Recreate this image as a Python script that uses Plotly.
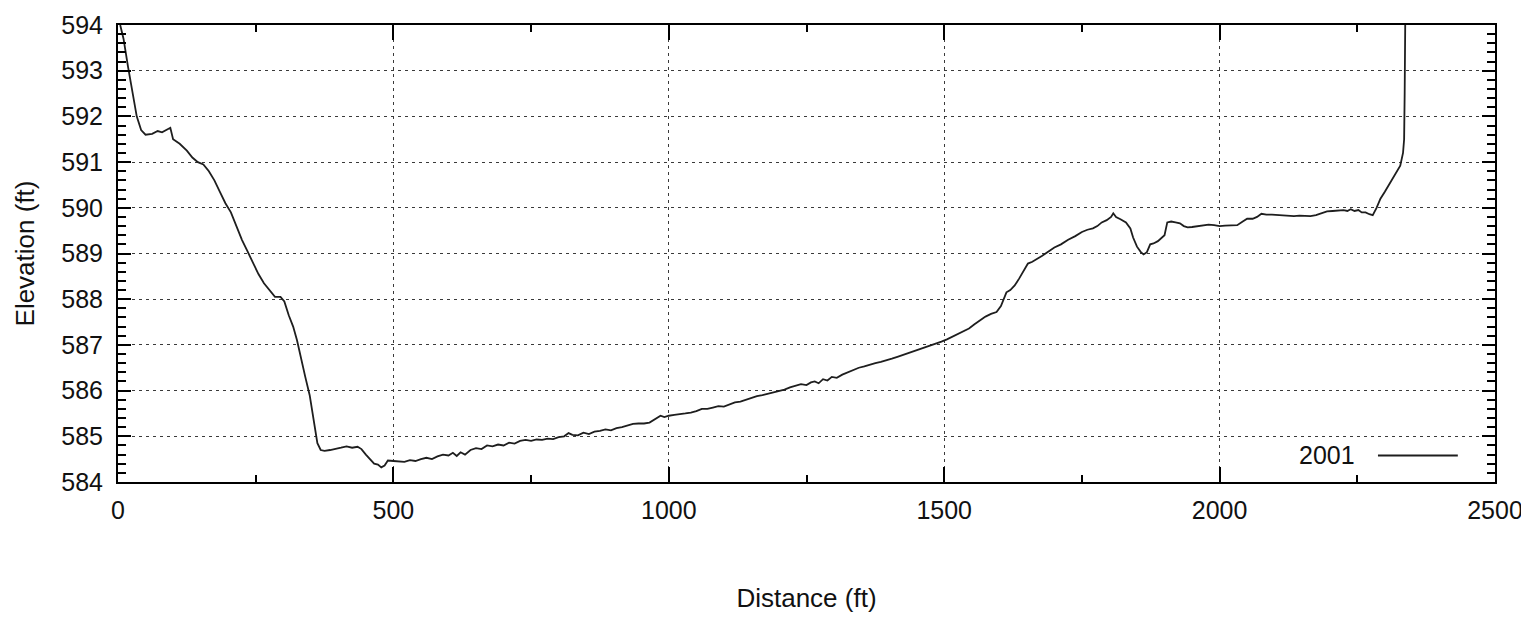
import plotly.graph_objects as go

# Distance along cross-section (ft)
distance_ft = [
    4, 10, 18, 26, 34, 42, 50, 62, 72, 80, 88, 95, 100, 112, 125, 135, 145, 155, 165, 175,
    185, 195, 205, 215, 225, 235, 245, 255, 265, 275, 285, 295, 302, 310, 318, 325, 332, 340,
    348, 355, 362, 368, 375, 385, 395, 405, 415, 425, 435, 442, 450, 458, 465, 472, 478, 484,
    490, 500, 510, 520, 530, 540, 550, 560, 570, 580, 590, 600, 608, 615, 622, 630, 640, 650,
    660, 670, 680, 690, 700, 710, 720, 730, 740, 750, 760, 770, 780, 790, 800, 810, 818, 825,
    835, 845, 855, 865, 875, 885, 895, 905, 915, 925, 935, 945, 955, 965, 975, 985, 992, 1000,
    1010, 1020, 1030, 1040, 1050, 1060, 1070, 1080, 1090, 1100, 1110, 1120, 1130, 1140, 1150,
    1160, 1170, 1180, 1190, 1200, 1210, 1220, 1230, 1240, 1250, 1258, 1265, 1272, 1280, 1288,
    1296, 1305, 1315, 1325, 1335, 1345, 1355, 1365, 1375, 1385, 1395, 1405, 1415, 1425, 1435,
    1445, 1455, 1465, 1475, 1485, 1495, 1505, 1515, 1525, 1535, 1545, 1555, 1565, 1575, 1585,
    1595, 1603, 1608, 1613, 1620, 1628, 1636, 1645, 1652, 1660, 1668, 1678, 1690, 1700, 1712,
    1725, 1738, 1750, 1760, 1770, 1778, 1786, 1795, 1803, 1807, 1812, 1820, 1830, 1838, 1843,
    1850, 1857, 1862, 1868, 1874, 1880, 1888, 1895, 1900, 1905, 1912, 1920, 1928, 1935, 1942,
    1950, 1960, 1970, 1980, 1990, 2000, 2010, 2020, 2032, 2042, 2050, 2060, 2068, 2076, 2085,
    2095, 2105, 2115, 2125, 2135, 2145, 2155, 2165, 2175, 2185, 2195, 2205, 2215, 2225, 2232,
    2238, 2245, 2252, 2258, 2265, 2272, 2278, 2285, 2292, 2300, 2310, 2320, 2328, 2333, 2335,
    2336, 2337,
]

# Elevation (ft), survey year 2001
elevation_2001 = [
    594.0, 593.7, 593.1, 592.5, 592.0, 591.7, 591.6, 591.62, 591.68, 591.65, 591.7, 591.75,
    591.5, 591.4, 591.25, 591.1, 591.0, 590.95, 590.8, 590.6, 590.35, 590.1, 589.9, 589.6,
    589.3, 589.05, 588.8, 588.55, 588.35, 588.2, 588.05, 588.05, 587.95, 587.65, 587.4, 587.1,
    586.7, 586.3, 585.9, 585.35, 584.85, 584.7, 584.68, 584.7, 584.72, 584.75, 584.78, 584.75,
    584.77, 584.72, 584.6, 584.48, 584.4, 584.38, 584.32, 584.36, 584.47, 584.46, 584.45,
    584.44, 584.48, 584.46, 584.5, 584.53, 584.5, 584.56, 584.6, 584.58, 584.64, 584.57,
    584.65, 584.6, 584.7, 584.74, 584.72, 584.8, 584.78, 584.82, 584.8, 584.86, 584.84, 584.9,
    584.92, 584.9, 584.93, 584.92, 584.95, 584.94, 584.98, 585.0, 585.07, 585.03, 585.02,
    585.08, 585.05, 585.1, 585.12, 585.15, 585.13, 585.18, 585.2, 585.24, 585.27, 585.28,
    585.28, 585.3, 585.38, 585.45, 585.42, 585.45, 585.47, 585.48, 585.5, 585.52, 585.55,
    585.6, 585.6, 585.63, 585.66, 585.65, 585.7, 585.74, 585.76, 585.8, 585.84, 585.88, 585.9,
    585.93, 585.97, 586.0, 586.02, 586.07, 586.1, 586.14, 586.12, 586.18, 586.2, 586.16,
    586.25, 586.22, 586.3, 586.28, 586.35, 586.4, 586.45, 586.5, 586.53, 586.57, 586.6, 586.63,
    586.66, 586.7, 586.74, 586.78, 586.82, 586.86, 586.9, 586.94, 586.98, 587.02, 587.07,
    587.12, 587.18, 587.24, 587.3, 587.36, 587.45, 587.53, 587.62, 587.68, 587.72, 587.85,
    588.0, 588.15, 588.2, 588.3, 588.45, 588.65, 588.78, 588.82, 588.87, 588.95, 589.05,
    589.13, 589.2, 589.3, 589.38, 589.47, 589.52, 589.55, 589.6, 589.68, 589.73, 589.8, 589.88,
    589.8, 589.75, 589.68, 589.55, 589.35, 589.15, 589.03, 588.98, 589.03, 589.2, 589.22,
    589.27, 589.35, 589.4, 589.68, 589.7, 589.68, 589.66, 589.6, 589.57, 589.58, 589.6, 589.62,
    589.63, 589.62, 589.6, 589.61, 589.62, 589.62, 589.7, 589.76, 589.76, 589.8, 589.87,
    589.85, 589.85, 589.84, 589.84, 589.83, 589.82, 589.83, 589.83, 589.82, 589.84, 589.88,
    589.92, 589.93, 589.94, 589.95, 589.93, 589.97, 589.93, 589.95, 589.9, 589.9, 589.86,
    589.84, 590.0, 590.2, 590.35, 590.55, 590.75, 590.92, 591.2, 591.5, 592.5, 594.0,
]

x_ticks = [0, 500, 1000, 1500, 2000, 2500]
y_ticks = [584, 585, 586, 587, 588, 589, 590, 591, 592, 593, 594]
series_name = "2001"

FONT = "Liberation Sans, Arial, Helvetica, sans-serif"
GRID = "#3a3a3a"
LINE = "#1e1e1e"

fig = go.Figure()
fig.add_trace(go.Scatter(
    x=distance_ft, y=elevation_2001, mode="lines", name=series_name,
    line=dict(color=LINE, width=1.8), showlegend=False,
))

axis_common = dict(
    showline=True, linecolor="black", linewidth=2, mirror="allticks",
    ticks="inside", tickcolor="black", tickwidth=2,
    showgrid=True, gridcolor=GRID, gridwidth=1, griddash="3px,4px",
    zeroline=False,
    tickfont=dict(family=FONT, size=25, color="#111"),
)

fig.update_xaxes(
    **axis_common,
    range=[0, 2500], tickvals=x_ticks, ticklen=15,
    ticklabelstandoff=5,
    minor=dict(dtick=250, ticks="inside", ticklen=7, tickwidth=2, tickcolor="black", showgrid=False),
    title=dict(text="Distance (ft)", font=dict(family=FONT, size=26, color="#111"), standoff=66),
)
fig.update_yaxes(
    **axis_common,
    range=[584, 594], tickvals=y_ticks, ticklen=13,
    ticklabelstandoff=8,
    minor=dict(dtick=0.2, ticks="inside", ticklen=8, tickwidth=2, tickcolor="black", showgrid=False),
    title=dict(text="Elevation (ft)", font=dict(family=FONT, size=26, color="#111"), standoff=19),
)

# Legend key (gnuplot style: label, then line sample)
fig.add_annotation(
    xref="paper", yref="paper", x=0.900, y=0.058, xanchor="right", yanchor="middle",
    text=series_name, showarrow=False, font=dict(family=FONT, size=25, color="#111"),
)
fig.add_shape(
    type="line", xref="paper", yref="paper", x0=0.915, x1=0.973, y0=0.058, y1=0.058,
    line=dict(color=LINE, width=1.8),
)

fig.update_layout(
    width=1529, height=622,
    margin=dict(l=110, r=42, t=17, b=148, autoexpand=False),
    paper_bgcolor="white", plot_bgcolor="white",
    showlegend=False,
)

fig.write_html("out.html")
